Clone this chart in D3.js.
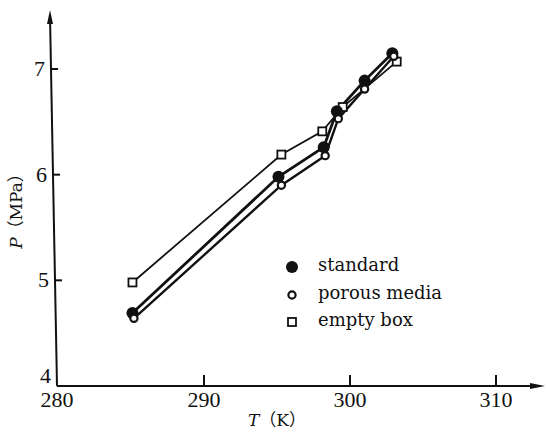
<!DOCTYPE html>
<html>
<head>
<meta charset="utf-8">
<script src="https://cdn.jsdelivr.net/npm/d3@7"></script>
<style>
  body { margin: 0; background: #fff; }
  svg { display: block; }
  .tick-label { font-family: "Liberation Serif", serif; font-size: 22px; fill: #111; }
  .legend-text { font-family: "DejaVu Serif", serif; font-size: 18px; fill: #111; }
  .title { font-family: "DejaVu Serif", serif; font-size: 17px; fill: #111; }
  .paren { font-family: "Noto Sans CJK SC", sans-serif; }
</style>
</head>
<body>
<script>
// data
var T_standard = [285.1, 295.1, 298.2, 299.1, 301.0, 302.9];
var P_standard = [4.69, 5.98, 6.26, 6.60, 6.89, 7.15];

var T_porous = [285.2, 295.3, 298.3, 299.2, 301.0, 303.0];
var P_porous = [4.64, 5.90, 6.18, 6.53, 6.81, 7.12];

var T_empty = [285.1, 295.3, 298.1, 299.5, 303.2];
var P_empty = [4.98, 6.19, 6.41, 6.64, 7.07];

var xTicks = [280, 290, 300, 310];
var yTicks = [4, 5, 6, 7];
var legendLabels = ["standard", "porous media", "empty box"];

var width = 546, height = 432;

var svg = d3.select("body").append("svg")
  .attr("width", width)
  .attr("height", height);

var x = d3.scaleLinear().domain([280, 310]).range([58, 496]);
var y = d3.scaleLinear().domain([4, 7]).range([386, 69]);

// y axis in the scan leans a little to the left going up
var axisTop = 10, axisBottomX = 57, axisTopX = 50;
function axisX(py) {
  return axisBottomX + (axisTopX - axisBottomX) * (y(4) - py) / (y(4) - axisTop);
}

// axes
svg.append("line")
  .attr("x1", axisBottomX).attr("y1", y(4))
  .attr("x2", axisTopX).attr("y2", axisTop + 6)
  .attr("stroke", "#111").attr("stroke-width", 2);
svg.append("path")
  .attr("d", "M" + axisTopX + "," + axisTop + " l-3,14 l6,0 z")
  .attr("fill", "#111");

svg.append("line")
  .attr("x1", axisBottomX).attr("y1", y(4))
  .attr("x2", 538).attr("y2", y(4))
  .attr("stroke", "#111").attr("stroke-width", 2);
svg.append("path")
  .attr("d", "M545," + y(4) + " l-15,-3 l0,6 z")
  .attr("fill", "#111");

// x ticks
svg.selectAll(".xtick")
  .data(xTicks.slice(1))
  .enter().append("line")
  .attr("x1", function(d) { return x(d) })
  .attr("x2", function(d) { return x(d) })
  .attr("y1", y(4))
  .attr("y2", y(4) - 11)
  .attr("stroke", "#111").attr("stroke-width", 2);

svg.selectAll(".xlabel")
  .data(xTicks)
  .enter().append("text")
  .attr("class", "tick-label")
  .attr("x", function(d) { return d == 280 ? 57 : x(d) })
  .attr("y", 407)
  .attr("text-anchor", "middle")
  .text(function(d) { return d });

// y ticks
svg.selectAll(".ytick")
  .data(yTicks.slice(1))
  .enter().append("line")
  .attr("x1", function(d) { return axisX(y(d)) })
  .attr("x2", function(d) { return axisX(y(d)) + 7 })
  .attr("y1", function(d) { return y(d) })
  .attr("y2", function(d) { return y(d) })
  .attr("stroke", "#111").attr("stroke-width", 2);

svg.selectAll(".ylabel")
  .data(yTicks)
  .enter().append("text")
  .attr("class", "tick-label")
  .attr("x", function(d) { return axisX(y(d)) - 6 })
  .attr("y", function(d) { return d == 4 ? y(d) - 3 : y(d) + 7 })
  .attr("text-anchor", "end")
  .text(function(d) { return d });

// axis titles
var xt = svg.append("text").attr("class", "title")
  .attr("x", 277).attr("y", 426).attr("text-anchor", "middle");
xt.append("tspan").attr("font-style", "italic").text("T");
xt.append("tspan").attr("class", "paren").text("（");
xt.append("tspan").text("K");
xt.append("tspan").attr("class", "paren").text("）");

var yt = svg.append("text").attr("class", "title")
  .attr("transform", "translate(22,207) rotate(-90)")
  .attr("text-anchor", "middle");
yt.append("tspan").attr("font-style", "italic").text("P");
yt.append("tspan").attr("class", "paren").text("（");
yt.append("tspan").text("MPa");
yt.append("tspan").attr("class", "paren").text("）");

// lines
var line = d3.line()
  .x(function(d) { return x(d[0]) })
  .y(function(d) { return y(d[1]) });

var empty = d3.zip(T_empty, P_empty);
var porous = d3.zip(T_porous, P_porous);
var standard = d3.zip(T_standard, P_standard);

svg.append("path").datum(empty).attr("d", line)
  .attr("fill", "none").attr("stroke", "#111").attr("stroke-width", 1.8);
svg.append("path").datum(porous).attr("d", line)
  .attr("fill", "none").attr("stroke", "#111").attr("stroke-width", 2.4);
svg.append("path").datum(standard).attr("d", line)
  .attr("fill", "none").attr("stroke", "#111").attr("stroke-width", 2.8);

// markers
svg.selectAll(".sq")
  .data(empty)
  .enter().append("rect")
  .attr("x", function(d) { return x(d[0]) - 4 })
  .attr("y", function(d) { return y(d[1]) - 4 })
  .attr("width", 8).attr("height", 8)
  .attr("fill", "#fff").attr("stroke", "#111").attr("stroke-width", 1.8);

svg.selectAll(".fill")
  .data(standard)
  .enter().append("circle")
  .attr("cx", function(d) { return x(d[0]) })
  .attr("cy", function(d) { return y(d[1]) })
  .attr("r", 6)
  .attr("fill", "#111");

svg.selectAll(".open")
  .data(porous)
  .enter().append("circle")
  .attr("cx", function(d) { return x(d[0]) })
  .attr("cy", function(d) { return y(d[1]) })
  .attr("r", 3.6)
  .attr("fill", "#fff").attr("stroke", "#111").attr("stroke-width", 2.2);

// legend
var legendY = [267, 295, 322];
var lx = 292;
svg.append("circle").attr("cx", lx).attr("cy", legendY[0]).attr("r", 6).attr("fill", "#111");
svg.append("circle").attr("cx", lx).attr("cy", legendY[1]).attr("r", 3.6)
  .attr("fill", "#fff").attr("stroke", "#111").attr("stroke-width", 2.2);
svg.append("rect").attr("x", lx - 4).attr("y", legendY[2] - 4).attr("width", 8).attr("height", 8)
  .attr("fill", "#fff").attr("stroke", "#111").attr("stroke-width", 1.8);

svg.selectAll(".legend")
  .data(legendLabels)
  .enter().append("text")
  .attr("class", "legend-text")
  .attr("x", 318)
  .attr("y", function(d, i) { return legendY[i] + 4 })
  .text(function(d) { return d });
</script>
</body>
</html>
